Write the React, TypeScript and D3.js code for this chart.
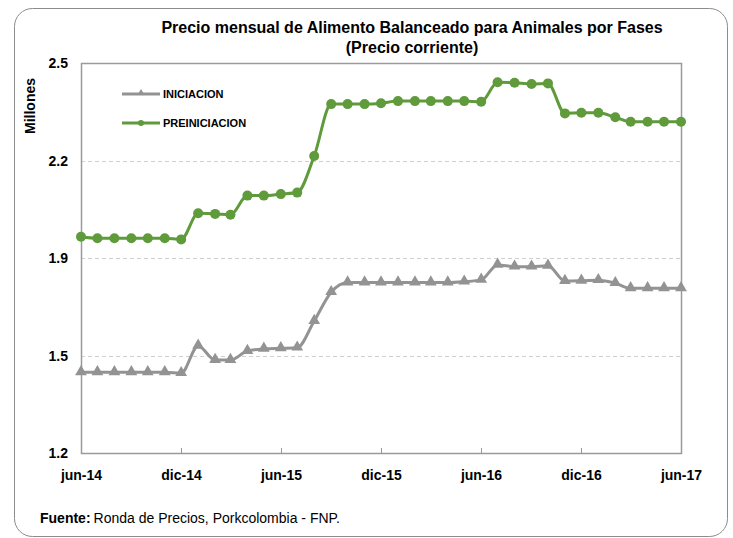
import React from "react";
import * as d3 from "d3";

const months: string[] = [
  "2014-06","2014-07","2014-08","2014-09","2014-10","2014-11","2014-12",
  "2015-01","2015-02","2015-03","2015-04","2015-05","2015-06","2015-07","2015-08","2015-09","2015-10","2015-11","2015-12",
  "2016-01","2016-02","2016-03","2016-04","2016-05","2016-06","2016-07","2016-08","2016-09","2016-10","2016-11","2016-12",
  "2017-01","2017-02","2017-03","2017-04","2017-05","2017-06",
];

const iniciacion: number[] = [
  1.469, 1.469, 1.469, 1.469, 1.469, 1.469, 1.466,
  1.557, 1.510, 1.510, 1.540, 1.547, 1.549, 1.551, 1.640, 1.736, 1.768, 1.768, 1.768,
  1.768, 1.768, 1.768, 1.768, 1.771, 1.777, 1.827, 1.821, 1.821, 1.824, 1.773, 1.774,
  1.776, 1.766, 1.749, 1.749, 1.749, 1.749,
];

const preiniciacion: number[] = [
  1.921, 1.916, 1.916, 1.916, 1.916, 1.916, 1.912,
  1.999, 1.997, 1.994, 2.058, 2.058, 2.063, 2.068, 2.190, 2.363, 2.363, 2.363, 2.366,
  2.373, 2.373, 2.373, 2.373, 2.373, 2.371, 2.436, 2.434, 2.430, 2.432, 2.332, 2.334,
  2.334, 2.319, 2.304, 2.304, 2.304, 2.304,
];

const yTicks: number[] = [1.2, 1.525, 1.85, 2.175, 2.5];
const xTickMonths: string[] = ["2014-06", "2014-12", "2015-06", "2015-12", "2016-06", "2016-12", "2017-06"];
const xTickLabels: string[] = ["jun-14", "dic-14", "jun-15", "dic-15", "jun-16", "dic-16", "jun-17"];

const W = 733;
const H = 538;
const M = { left: 81, right: 681, top: 63, bottom: 453 };
const GREEN = "#5F9A3B";
const GRAY = "#939393";
const FONT = "'Liberation Sans', Arial, sans-serif";

export default function App() {
  const parse = d3.timeParse("%Y-%m");
  const dates = months.map((m) => parse(m) as Date);
  const x = d3.scaleTime().domain([dates[0], dates[dates.length - 1]]).range([M.left, M.right]);
  const y = d3.scaleLinear().domain([1.2, 2.5]).range([M.bottom, M.top]);

  const line = d3
    .line<number>()
    .x((_, i) => x(dates[i]))
    .y((d) => y(d))
    .curve(d3.curveMonotoneX);

  const tri = d3.symbol().type(d3.symbolTriangle).size(60)() as string;
  const triSmall = d3.symbol().type(d3.symbolTriangle).size(22)() as string;

  return (
    <svg width={W} height={H} style={{ position: "absolute", left: 0, top: 0 }} fontFamily={FONT}>
      <rect x={0} y={0} width={W} height={H} fill="#fff" />
      <rect x={14.5} y={8.5} width={713} height={528} rx={18} ry={18} fill="none" stroke="#8c8c8c" strokeWidth={1} />

      {/* title */}
      <text x={412} y={33} textAnchor="middle" fontSize={16} fontWeight="bold" fill="#000">
        Precio mensual de Alimento Balanceado para Animales por Fases
      </text>
      <text x={412} y={53} textAnchor="middle" fontSize={16} fontWeight="bold" fill="#000">
        (Precio corriente)
      </text>

      {/* grid */}
      {yTicks.slice(1, -1).map((t) => (
        <line key={t} x1={M.left} x2={M.right} y1={Math.round(y(t)) + 0.5} y2={Math.round(y(t)) + 0.5}
          stroke="#d0d0d0" strokeWidth={1} strokeDasharray="4,3" />
      ))}

      {/* plot frame */}
      <rect x={M.left + 0.5} y={M.top + 0.5} width={M.right - M.left} height={M.bottom - M.top}
        fill="none" stroke="#9a9a9a" strokeWidth={1.5} />

      {/* x ticks */}
      {xTickMonths.map((m, i) => {
        const xx = Math.round(x(parse(m) as Date)) + 0.5;
        return (
          <g key={m}>
            <line x1={xx} x2={xx} y1={M.bottom - 5} y2={M.bottom} stroke="#9a9a9a" strokeWidth={1} />
            <text x={xx} y={480} textAnchor="middle" fontSize={14} fontWeight="bold" fill="#000">
              {xTickLabels[i]}
            </text>
          </g>
        );
      })}

      {/* y ticks */}
      {yTicks.map((t) => (
        <text key={t} x={68} y={y(t) + 5} textAnchor="end" fontSize={14} fontWeight="bold" fill="#000">
          {d3.format(".1f")(t)}
        </text>
      ))}
      <text transform={`translate(35,${106}) rotate(-90)`} textAnchor="middle" fontSize={14} fontWeight="bold" fill="#000">
        Millones
      </text>

      {/* series */}
      <path d={line(iniciacion) as string} fill="none" stroke={GRAY} strokeWidth={3} />
      {iniciacion.map((v, i) => (
        <path key={i} d={tri} transform={`translate(${x(dates[i])},${y(v) - 0.5})`} fill={GRAY} />
      ))}
      <path d={line(preiniciacion) as string} fill="none" stroke={GREEN} strokeWidth={3} />
      {preiniciacion.map((v, i) => (
        <circle key={i} cx={x(dates[i])} cy={y(v)} r={5} fill={GREEN} />
      ))}

      {/* legend */}
      <line x1={122} x2={160} y1={94} y2={94} stroke={GRAY} strokeWidth={3} />
      <path d={triSmall} transform="translate(141,93)" fill={GRAY} />
      <text x={163} y={98} fontSize={11} fontWeight="bold" fill="#000">INICIACION</text>
      <line x1={122} x2={160} y1={123} y2={123} stroke={GREEN} strokeWidth={3} />
      <circle cx={141} cy={123} r={3} fill={GREEN} />
      <text x={163} y={127} fontSize={11} fontWeight="bold" fill="#000">PREINICIACION</text>

      {/* footer */}
      <text x={40} y={523} fontSize={14} fill="#000">
        <tspan fontWeight="bold">Fuente:</tspan>
        <tspan dx={3}>Ronda de Precios, Porkcolombia  - FNP.</tspan>
      </text>
    </svg>
  );
}
